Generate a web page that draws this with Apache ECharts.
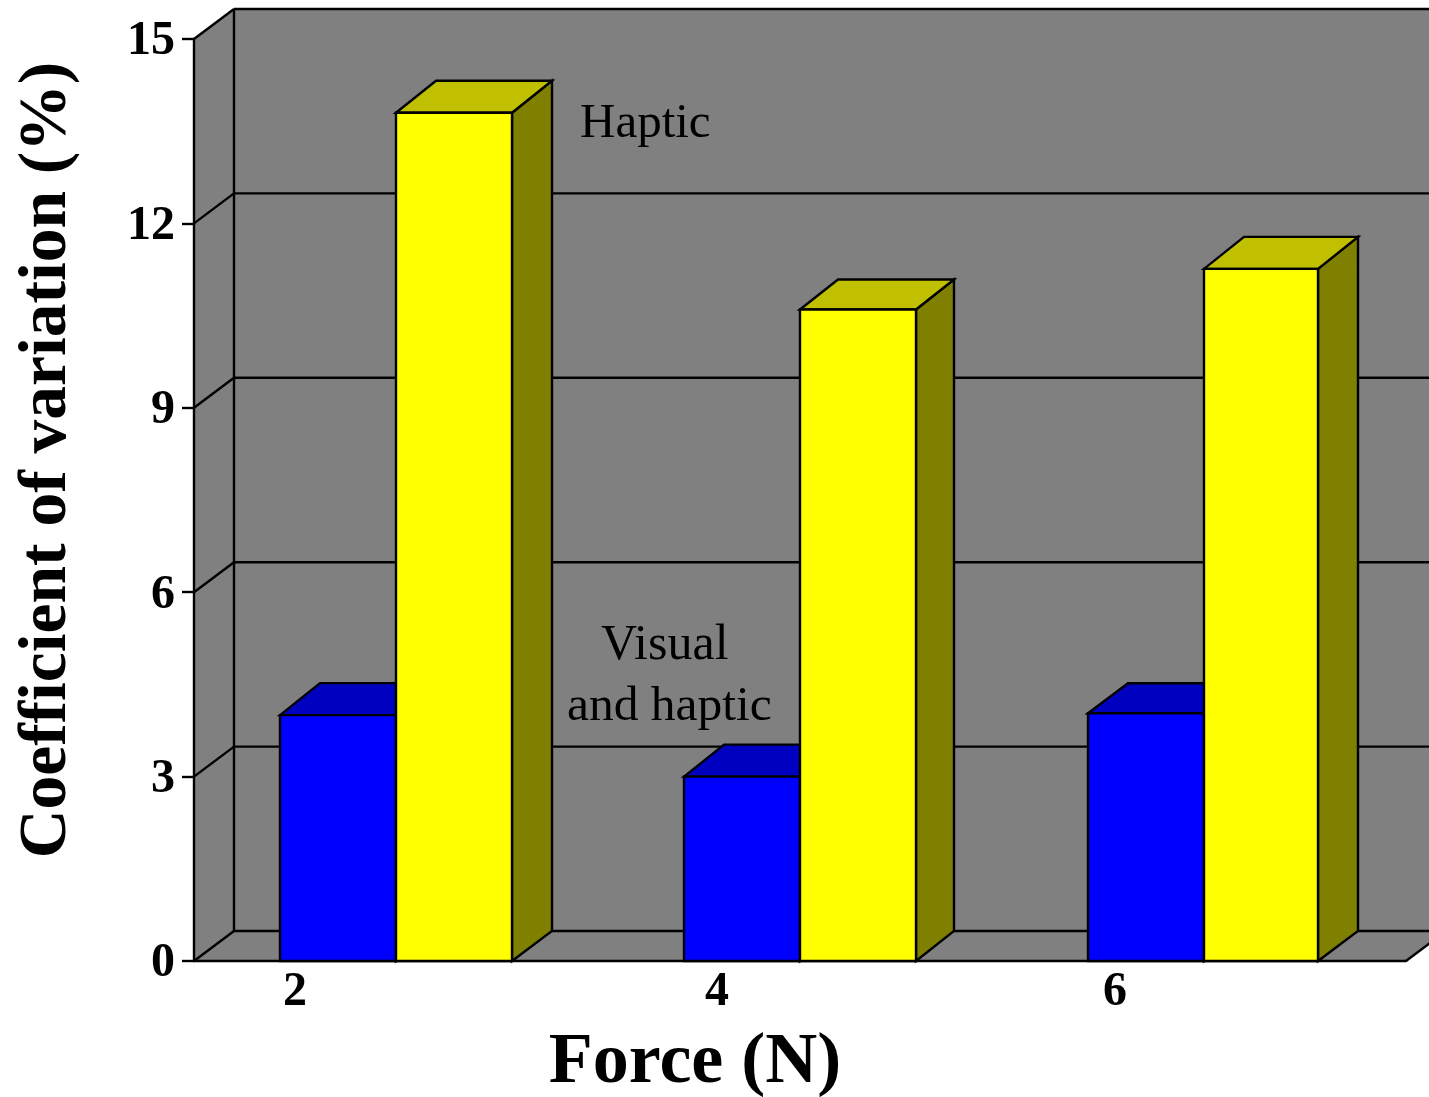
<!DOCTYPE html>
<html>
<head>
<meta charset="utf-8">
<style>html,body{margin:0;padding:0;background:#fff;overflow:hidden}#c{width:1429px;height:1097px}</style>
<script src="https://cdn.jsdelivr.net/npm/echarts@6/dist/echarts.min.js"></script>
</head>
<body>
<div id="c"></div>
<script>
const categories = ['2', '4', '6'];
const yTicks = [0, 3, 6, 9, 12, 15];
const visualAndHaptic = [4.0, 3.0, 4.03];
const haptic = [13.8, 10.6, 11.26];

const SERIF = '"Liberation Serif","Times New Roman",serif';
const DX = 40, WALL_DY = 30, LW = 2.4;
const blueStyle = { w: [116, 116, 116], dx: [40, 40, 40], dy: [32, 32, 30] };
const yellowStyle = { w: [116, 116, 114], dx: [40, 38, 40], dy: [32, 30, 32] };

function renderWall(params, api) {
  const v = api.value(1);
  const cs = params.coordSys;
  const y = api.coord([0, v])[1];
  const x0 = cs.x, x1 = cs.x + cs.width;
  const stroke = { stroke: '#000', lineWidth: LW, fill: null };
  const kids = [];
  if (v === 0) {
    const top = api.coord([0, 15])[1];
    const gray = { fill: '#808080', stroke: 'none' };
    kids.push({ type: 'polygon', shape: { points: [[x0 + DX, top - WALL_DY], [x1 + DX, top - WALL_DY], [x1 + DX, y - WALL_DY], [x0 + DX, y - WALL_DY]] }, style: gray });
    kids.push({ type: 'polygon', shape: { points: [[x0, top], [x0 + DX, top - WALL_DY], [x0 + DX, y - WALL_DY], [x0, y]] }, style: gray });
    kids.push({ type: 'polygon', shape: { points: [[x0, y], [x0 + DX, y - WALL_DY], [x1 + DX, y - WALL_DY], [x1, y]] }, style: gray });
    kids.push({ type: 'line', shape: { x1: x0 + DX, y1: top - WALL_DY, x2: x0 + DX, y2: y - WALL_DY }, style: stroke });
    kids.push({ type: 'line', shape: { x1: x1, y1: y, x2: x1 + DX, y2: y - WALL_DY }, style: stroke });
  }
  kids.push({ type: 'line', shape: { x1: x0, y1: y, x2: x0 + DX, y2: y - WALL_DY }, style: stroke });
  kids.push({ type: 'line', shape: { x1: x0 + DX, y1: y - WALL_DY, x2: x1 + DX, y2: y - WALL_DY }, style: stroke });
  return { type: 'group', children: kids };
}

function barRenderer(side, geom, front, topC, sideC) {
  return function (params, api) {
    const i = api.value(0);
    const c = api.coord([i, api.value(1)]);
    const b = api.coord([i, 0]);
    const w = geom.w[i], dx = geom.dx[i], dy = geom.dy[i];
    const xa = side < 0 ? c[0] - w : c[0];
    const xb = xa + w;
    const yt = c[1], yb = b[1];
    const st = (fill) => ({ fill: fill, stroke: '#000', lineWidth: LW, lineJoin: 'miter' });
    return {
      type: 'group',
      children: [
        { type: 'polygon', shape: { points: [[xb, yt], [xb + dx, yt - dy], [xb + dx, yb - WALL_DY], [xb, yb]] }, style: st(sideC) },
        { type: 'polygon', shape: { points: [[xa, yt], [xa + dx, yt - dy], [xb + dx, yt - dy], [xb, yt]] }, style: st(topC) },
        { type: 'rect', shape: { x: xa, y: yt, width: w, height: yb - yt }, style: st(front) }
      ]
    };
  };
}

const chart = echarts.init(document.getElementById('c'), null, { renderer: 'canvas', width: 1429, height: 1097 });
chart.setOption({
  animation: false,
  backgroundColor: '#fff',
  grid: { left: 194, top: 39, width: 1212, height: 922, containLabel: false, outerBoundsMode: 'none' },
  xAxis: {
    type: 'category',
    data: [
      { value: categories[0], textStyle: { padding: [0, 202, 0, 0] } },
      { value: categories[1], textStyle: { padding: [0, 166, 0, 0] } },
      { value: categories[2], textStyle: { padding: [0, 178, 0, 0] } }
    ],
    name: 'Force (N)',
    nameLocation: 'middle',
    nameGap: 66,
    nameTextStyle: { fontFamily: SERIF, fontWeight: 'bold', fontSize: 72, color: '#000', padding: [0, 210, 0, 0] },
    axisLine: { show: true, lineStyle: { color: '#000', width: LW } },
    axisTick: { show: false },
    axisLabel: { fontFamily: SERIF, fontWeight: 'bold', fontSize: 48, color: '#000', margin: 8 },
    z: 1
  },
  yAxis: {
    type: 'value',
    min: 0, max: 15, interval: 3,
    name: 'Coefficient of variation (%)',
    nameLocation: 'middle',
    nameGap: 112,
    nameRotate: 90,
    nameTextStyle: { fontFamily: SERIF, fontWeight: 'bold', fontSize: 67.5, color: '#000', padding: [0, 0, 0, 80] },
    axisLine: { show: true, onZero: false, lineStyle: { color: '#000', width: LW } },
    axisTick: { show: true, length: 12, lineStyle: { color: '#000', width: LW } },
    axisLabel: {
      margin: 19,
      formatter: '{t|{value}}',
      rich: { t: { fontFamily: SERIF, fontWeight: 'bold', fontSize: 48, color: '#000', padding: [6, 0, 0, 0] } }
    },
    splitLine: { show: false }
  },
  graphic: [
    { type: 'text', z: 50, left: 580, top: 100, style: { text: 'Haptic', font: '49px ' + SERIF, fill: '#000' } },
    { type: 'text', z: 50, left: 601, top: 621, style: { text: 'Visual', font: '50px ' + SERIF, fill: '#000' } },
    { type: 'text', z: 50, left: 567, top: 682, style: { text: 'and haptic', font: '49.5px ' + SERIF, fill: '#000' } }
  ],
  series: [
    { type: 'custom', name: 'walls', clip: false, silent: true, z: 0, renderItem: renderWall,
      encode: { x: 0, y: 1 }, data: yTicks.map(v => [0, v]) },
    { type: 'custom', name: 'Visual and haptic', clip: false, z: 3, renderItem: barRenderer(-1, blueStyle, '#0000ff', '#0000c0', '#000080'),
      encode: { x: 0, y: 1 }, data: visualAndHaptic.map((v, i) => [i, v]) },
    { type: 'custom', name: 'Haptic', clip: false, z: 4, renderItem: barRenderer(1, yellowStyle, '#ffff00', '#c0c000', '#808000'),
      encode: { x: 0, y: 1 }, data: haptic.map((v, i) => [i, v]) }
  ]
});
</script>
</body>
</html>
